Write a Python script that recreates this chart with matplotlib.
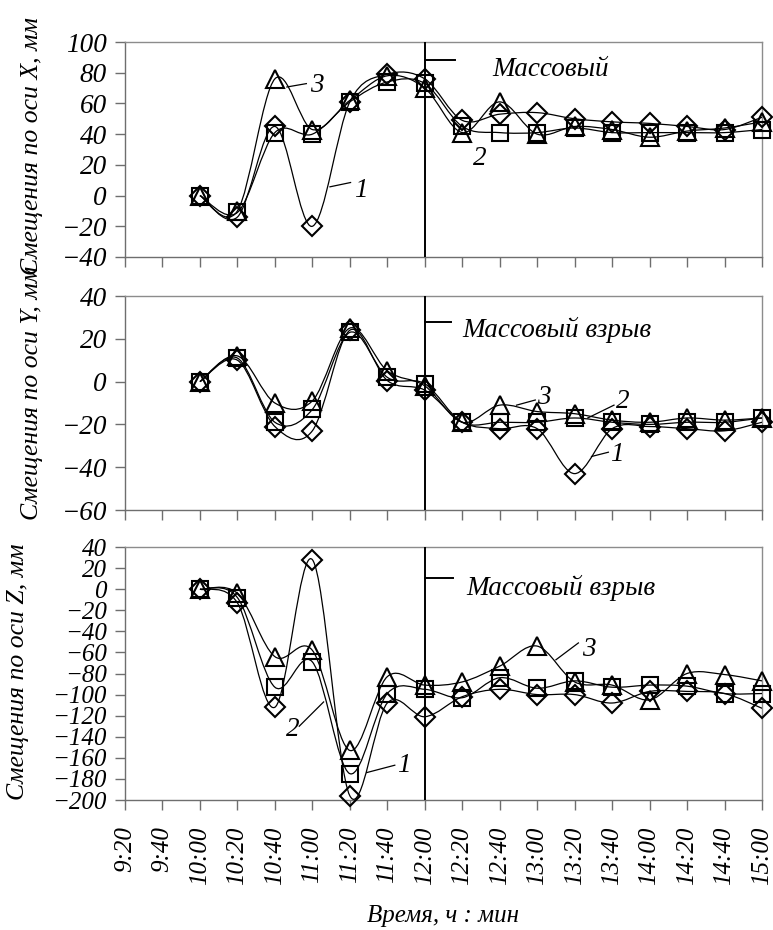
import matplotlib
matplotlib.use("Agg")
import matplotlib.pyplot as plt
from matplotlib.path import Path
from matplotlib.patches import PathPatch
import numpy as np

plt.rcParams['font.family'] = ['Liberation Serif', 'DejaVu Serif']
plt.rcParams['font.style'] = 'italic'
plt.rcParams['axes.unicode_minus'] = True

# ---------------- data ----------------
tick_labels = ['9:20', '9:40', '10:00', '10:20', '10:40', '11:00', '11:20', '11:40',
               '12:00', '12:20', '12:40', '13:00', '13:20', '13:40', '14:00', '14:20',
               '14:40', '15:00']
times = ['10:00', '10:20', '10:40', '11:00', '11:20', '11:40', '12:00', '12:20',
         '12:40', '13:00', '13:20', '13:40', '14:00', '14:20', '14:40', '15:00']
blast_time = '12:00'

# X displacements, mm (1 - diamonds, 2 - squares, 3 - triangles)
x1 = [0, -14, 45, -20, 61, 79, 76, 49, 53, 54, 50, 48, 47, 45, 43, 51]
x2 = [0, -11, 41, 40, 61, 74, 73, 45, 41, 41, 44, 41, 41, 41, 41, 43]
x3 = [0, -10, 76, 43, 62, 78, 70, 41, 61, 40, 45, 43, 38, 42, 44, 48]

# Y displacements, mm
y1 = [0, 10, -21, -23, 24, 0.5, -4, -19, -22, -22, -43, -22, -21, -22, -23, -19]
y2 = [0, 11, -19, -13, 23, 2, -1, -19, -19, -19, -17, -19, -20, -19, -19, -17]
y3 = [0, 12, -10, -9, 25, 5, -2, -19, -11, -14, -15, -18, -19, -17, -18, -17]

# Z displacements, mm
z1 = [0, -13, -112, 28, -196, -108, -121, -102, -95, -100, -100, -108, -97, -97, -99, -113]
z2 = [0, -8, -93, -69, -175, -99, -95, -103, -84, -94, -87, -93, -91, -92, -99, -99]
z3 = [0, -4, -64, -58, -153, -83, -91, -88, -73, -54, -88, -91, -105, -80, -81, -87]

W, H = 773, 930
fig = plt.figure(figsize=(W / 100, H / 100), dpi=100)


def rect(top, bottom, left=125, right=762):
    return [left / W, 1 - bottom / H, (right - left) / W, (bottom - top) / H]


def smooth(ax, xs, ys, **kw):
    pts = np.column_stack([xs, ys]).astype(float)
    n = len(pts)
    verts = [pts[0]]
    codes = [Path.MOVETO]
    for i in range(n - 1):
        p0 = pts[i - 1] if i > 0 else pts[i]
        p1 = pts[i]
        p2 = pts[i + 1]
        p3 = pts[i + 2] if i + 2 < n else pts[i + 1]
        c1 = p1 + (p2 - p0) / 6.0
        c2 = p2 - (p3 - p1) / 6.0
        verts += [c1, c2, p2]
        codes += [Path.CURVE4] * 3
    ax.add_patch(PathPatch(Path(verts, codes), fill=False, **kw))


xpos = [tick_labels.index(t) for t in times]
xb = tick_labels.index(blast_time)

series_style = [('D', 10.5), ('s', 12), ('^', 13)]


def panel(r, s1, s2, s3, ylim, ystep, tick_fs, show_x):
    ax = fig.add_axes(r)
    for vals, (m, ms) in zip([s1, s2, s3], series_style):
        smooth(ax, xpos, vals, color='black', lw=0.9, zorder=3)
        ax.plot(xpos, vals, linestyle='none', marker=m, ms=ms, mfc='none',
                mec='black', mew=1.5, zorder=4, clip_on=False)
    ax.axvline(xb, color='black', lw=1.4, zorder=5)
    ax.set_xlim(0, len(tick_labels) - 1)
    ax.set_ylim(*ylim)
    ax.set_yticks(np.arange(ylim[0], ylim[1] + 1, ystep))
    ax.set_xticks(range(len(tick_labels)))
    if show_x:
        ax.set_xticklabels(tick_labels, rotation=90, fontsize=24)
    else:
        ax.set_xticklabels([])
    for sp in ax.spines.values():
        sp.set_color('#8c8c8c')
        sp.set_linewidth(1.0)
    ax.spines['left'].set_color('#6e6e6e')
    ax.spines['bottom'].set_color('#6e6e6e')
    ax.tick_params(axis='both', direction='out', length=7, width=1.0,
                   color='#6e6e6e', labelsize=tick_fs, pad=6)
    ax.tick_params(axis='x', pad=12)
    return ax


ax1 = panel(rect(42, 257), x1, x2, x3, (-40, 100), 20, 19.5, False)
ax2 = panel(rect(296, 510), y1, y2, y3, (-60, 40), 20, 19.5, False)
ax3 = panel(rect(547, 800), z1, z2, z3, (-200, 40), 20, 18, True)

fs = 19.5
# Top panel annotations
ax1.plot([xb, xb + 0.8], [88, 88], color='black', lw=1.4)
ax1.text(9.8, 82, 'Массовый', fontsize=fs, va='center', ha='left')
ax1.plot([4.32, 4.84], [70.7, 72.9], color='black', lw=0.9)
ax1.text(4.95, 71.5, '3', fontsize=fs, va='center', ha='left')
ax1.plot([5.47, 6.02], [5.7, 8.5], color='black', lw=0.9)
ax1.text(6.1, 3, '1', fontsize=fs, va='center', ha='left')
ax1.text(9.3, 24, '2', fontsize=fs, va='center', ha='left')

# Middle panel annotations
ax2.plot([xb, xb + 0.7], [28, 28], color='black', lw=1.4)
ax2.text(9.0, 24, 'Массовый взрыв', fontsize=fs, va='center', ha='left')
ax2.plot([10.45, 10.95], [-11, -8.6], color='black', lw=0.9)
ax2.text(11.0, -7.5, '3', fontsize=fs, va='center', ha='left')
ax2.plot([12.35, 13.05], [-17, -11], color='black', lw=0.9)
ax2.text(13.1, -9.5, '2', fontsize=fs, va='center', ha='left')
ax2.plot([12.45, 12.9], [-35, -33], color='black', lw=0.9)
ax2.text(12.95, -34, '1', fontsize=fs, va='center', ha='left')

# Bottom panel annotations
ax3.plot([xb, xb + 0.75], [11, 11], color='black', lw=1.4)
ax3.text(9.1, 1, 'Массовый взрыв', fontsize=fs, va='center', ha='left')
ax3.plot([11.5, 12.1], [-67, -51], color='black', lw=0.9)
ax3.text(12.2, -57, '3', fontsize=fs, va='center', ha='left')
ax3.plot([4.65, 5.3], [-130, -107], color='black', lw=0.9)
ax3.text(4.3, -133, '2', fontsize=fs, va='center', ha='left')
ax3.plot([6.45, 7.2], [-174, -167], color='black', lw=0.9)
ax3.text(7.25, -167, '1', fontsize=fs, va='center', ha='left')

# Axis titles
fig.text(32 / W, 1 - 146 / H, 'Смещения по оси X, мм', rotation=90,
         fontsize=18.5, ha='center', va='center')
fig.text(32 / W, 1 - 393 / H, 'Смещения по оси Y, мм', rotation=90,
         fontsize=18.5, ha='center', va='center')
fig.text(18 / W, 1 - 672 / H, 'Смещения по оси Z, мм', rotation=90,
         fontsize=18.5, ha='center', va='center')
fig.text(443 / W, 1 - 916 / H, 'Время, ч : мин', fontsize=18,
         ha='center', va='center')

fig.savefig('out.png', dpi=100)
